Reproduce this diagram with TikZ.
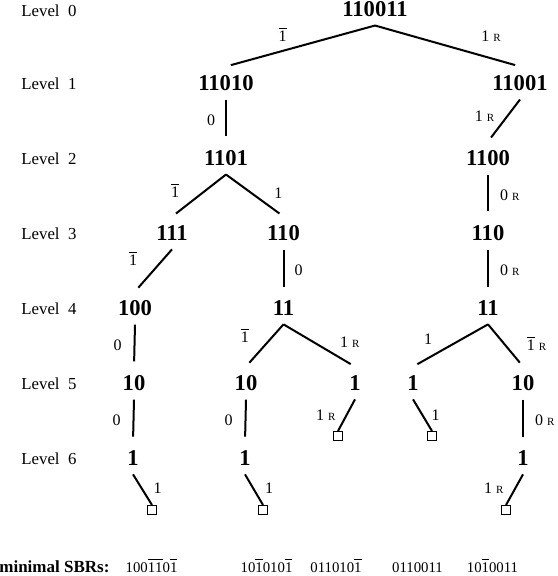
\documentclass[tikz,border=0pt]{standalone}
\usepackage{fontspec}
\setmainfont{Liberation Serif}
\usepackage{tikz}
\usetikzlibrary{positioning}

\newcommand{\numfont}{\fontsize{11.3}{13}\selectfont\bfseries}
\newcommand{\labfont}{\fontsize{8}{9}\selectfont}
\newcommand{\rfont}{\fontsize{5.5}{6}\selectfont}
\newcommand{\sbrfont}{\fontsize{7.4}{9}\selectfont}
\newcommand{\nbar}[1]{$\overline{\mbox{#1}}$}
\newcommand{\rdir}{\ {\rfont R}}

\begin{document}
\begin{tikzpicture}[
      x=0.5pt, y=-0.5pt,
      every node/.style={font=\labfont},
      num/.style={font=\numfont, inner xsep=1pt, inner ysep=4.25pt},
      lvl/.style={anchor=west, inner sep=0pt, font=\fontsize{8.4}{10}\selectfont},
      leaf/.style={rectangle, draw, line width=0.5pt, inner sep=0pt, minimum size=4.5pt},
      link/.style={draw, line width=1pt, shorten >=2.5pt},
      lab/.style={inner sep=1pt},
      sbr/.style={anchor=base, inner sep=0pt, font=\sbrfont}
    ]
    \useasboundingbox (0,0) rectangle (557,576);

    % level names on the left
    \foreach \k/\y in {0/11,1/84,2/159,3/234,4/309,5/384,6/459}
      \node[lvl] (lev\k) at (21,\y) {Level~~\k};

    % the numbers, level by level
    \node[num] (r)  at (375,9)   {110011};
    \node[num] (a1) at (226,83)  {11010};
    \node[num] (a2) at (520,83)  {11001};
    \node[num] (b1) at (226,158) {1101};
    \node[num] (b2) at (488,158) {1100};
    \node[num] (c1) at (172,233) {111};
    \node[num] (c2) at (283.5,233) {110};
    \node[num] (c3) at (488,233) {110};
    \node[num] (d1) at (135,308) {100};
    \node[num] (d2) at (283.5,308) {11};
    \node[num] (d3) at (488,308) {11};
    \node[num] (e1) at (134,383) {10};
    \node[num] (e2) at (246,383) {10};
    \node[num] (e3) at (355,383) {1};
    \node[num] (e4) at (413,383) {1};
    \node[num] (e5) at (523,383) {10};
    \node[num] (f1) at (133,458) {1};
    \node[num] (f2) at (245,458) {1};
    \node[num] (f3) at (523,458) {1};

    % end boxes
    \node[leaf] (s1) at (338,436) {};
    \node[leaf] (s2) at (432,436) {};
    \node[leaf] (s3) at (152,510) {};
    \node[leaf] (s4) at (263,510) {};
    \node[leaf] (s5) at (506,510) {};

    % edges with their digits
    \draw[link] (r.south) -- node[lab, pos=0.62, above=3pt] {\nbar{1}} (a1.north);
    \draw[link] (r.south) -- node[lab, pos=0.8, above=7pt] {1\rdir} (a2.north);
    \draw[link] (a1.south) -- node[lab, left=4pt] {0} (b1.north);
    \draw[link] (a2.south) -- node[lab, pos=0.4, left=5pt] {1\rdir} (b2.north);
    \draw[link] (b1.south) -- node[lab, pos=0.37, left=12pt] {\nbar{1}} (c1.north);
    \draw[link] (b1.south) -- node[lab, pos=0.44, right=10pt] {1} (c2.north);
    \draw[link] (b2.south) -- node[lab, right=4.5pt] {0\rdir} (c3.north);
    \draw[link] (c1.south) -- node[lab, pos=0.21, left=12pt] {\nbar{1}} (d1.north);
    \draw[link] (c2.south) -- node[lab, right=4pt] {0} (d2.north);
    \draw[link] (c3.south) -- node[lab, right=4.5pt] {0\rdir} (d3.north);
    \draw[link] (d1.south) -- node[lab, left=5pt] {0} (e1.north);
    \draw[link] (d2.south) -- node[lab, pos=0.26, left=11pt] {\nbar{1}} (e2.north);
    \draw[link] (d2.south) -- node[lab, pos=0.7, above right=2.5pt] {1\rdir} (e3.north);
    \draw[link] (d3.south) -- node[lab, pos=0.65, above left=3pt] {1} (e4.north);
    \draw[link] (d3.south) -- node[lab, pos=0.45, right=10pt] {\nbar{1}\rdir} (e5.north);
    \draw[link] (e1.south) -- node[lab, left=5pt] {0} (f1.north);
    \draw[link] (e2.south) -- node[lab, left=5pt] {0} (f2.north);
    \draw[link, shorten >=0pt] (e3.south) -- node[lab, left=4pt] {1\rdir} (s1.north);
    \draw[link, shorten >=0pt] (e4.south) -- node[lab, right=3pt] {1} (s2.north);
    \draw[link] (e5.south) -- node[lab, right=4.5pt] {0\rdir} (f3.north);
    \draw[link, shorten >=0pt] (f1.south) -- node[lab, pos=0.45, right=4.5pt] {1} (s3.north);
    \draw[link, shorten >=0pt] (f2.south) -- node[lab, pos=0.45, right=4.5pt] {1} (s4.north);
    \draw[link, shorten >=0pt] (f3.south) -- node[lab, pos=0.45, left=4.5pt] {1\rdir} (s5.north);

    % bottom row
    \node[anchor=base west, inner sep=0pt, font=\fontsize{8.5}{10}\selectfont\bfseries] (sbrs) at (-1,572) {minimal SBRs:};
    \node[sbr] (m1) at (151.5,572) {100\nbar{1}\nbar{1}0\nbar{1}};
    \node[sbr] (m2) at (266.5,572) {10\nbar{1}010\nbar{1}};
    \node[sbr] (m3) at (336,572)   {011010\nbar{1}};
    \node[sbr] (m4) at (417.5,572) {0110011};
    \node[sbr] (m5) at (492.5,572) {10\nbar{1}0011};
\end{tikzpicture}
\end{document}
